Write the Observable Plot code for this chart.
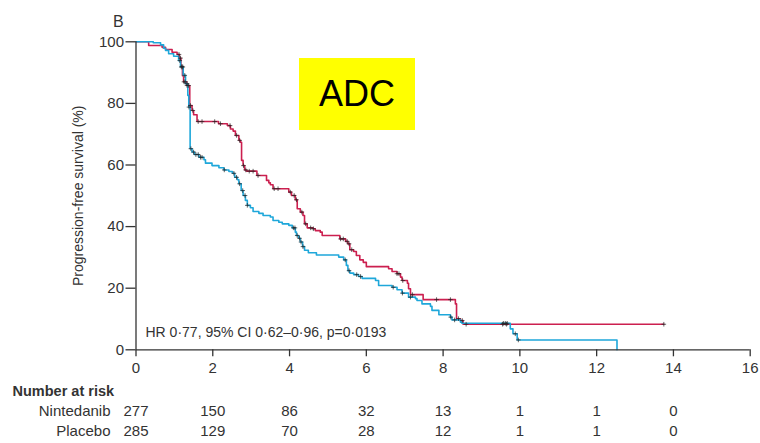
<!DOCTYPE html>
<html><head><meta charset="utf-8">
<script src="https://cdn.jsdelivr.net/npm/d3@7"></script>
<script src="https://cdn.jsdelivr.net/npm/@observablehq/plot@0.6"></script>
<style>
body{margin:0;background:#fff;}
#wrap{position:relative;width:760px;height:443px;}
#adc{position:absolute;left:299px;top:58px;width:116px;height:72px;background:#ffff00;font-family:"Liberation Sans",Arial,sans-serif;font-size:36px;display:flex;align-items:center;justify-content:center;color:#000;}
</style></head>
<body><div id="wrap"><div id="chart"></div><div id="adc">ADC</div></div>
<script>
const panelLabel = "B";
const yLabel = "Progression-free survival (%)";
const hrText = "HR 0·77, 95% CI 0·62–0·96, p=0·0193";
const riskTitle = "Number at risk";
const groups = ["Nintedanib", "Placebo"];
const xTicks = [0, 2, 4, 6, 8, 10, 12, 14, 16];
const yTicks = [0, 20, 40, 60, 80, 100];

const nintTime = [0,0.33,0.68,0.77,0.94,1.07,1.13,1.17,1.21,1.24,1.32,1.40,1.46,1.50,1.59,2.15,2.38,2.46,2.53,2.59,2.68,2.72,2.75,2.79,2.83,2.88,3.15,3.40,3.46,3.50,3.57,3.98,4.05,4.15,4.20,4.28,4.35,4.39,4.46,4.61,4.67,4.80,4.85,5.31,5.46,5.52,5.57,5.67,5.74,5.83,5.92,6.00,6.58,6.67,6.80,6.89,6.93,7.07,7.10,7.15,7.48,8.32,8.35,8.45,8.52,13.75];
const nintSurv = [100,98.8,98.2,97.5,96.6,95.9,94.7,92,89,87,85.8,79.3,77.7,76.3,74.1,73.4,72.8,71.7,71.0,69.6,68.0,67.4,61.5,59.8,58.4,58.0,56.6,55.0,54.2,53.6,52.3,51.2,50.1,48.7,45.8,44.7,43.6,40.9,39.6,39.3,38.7,38.2,37.1,36.0,35.2,34.4,32.5,31.9,30.6,29.2,28.4,27.0,26.3,25.4,24.7,23.6,22.5,21.6,19.8,17.9,16.3,14.9,10.1,9.5,8.3,8.3];

const placTime = [0,0.45,0.64,0.72,0.77,0.85,0.98,1.11,1.16,1.23,1.29,1.35,1.375,1.41,1.46,1.52,1.64,1.77,1.81,1.98,2.16,2.29,2.42,2.51,2.57,2.64,2.68,2.74,2.79,2.85,2.90,2.98,3.05,3.20,3.31,3.50,3.57,3.72,3.81,3.98,4.07,4.15,4.18,4.24,4.28,4.34,4.39,4.49,4.70,5.28,5.41,5.48,5.52,5.57,5.67,5.80,5.89,6.24,6.32,6.67,6.80,6.93,7.10,7.28,7.32,7.45,7.67,7.71,7.89,8.19,8.23,8.45,8.49,9.75,9.82,9.93,12.53];
const placSurv = [100,99.7,99.0,97.9,97.2,96.1,95.3,93.9,91.8,89.1,86.4,82.6,78.8,65.3,64.2,63.4,62.5,61.7,60.6,59.8,59.1,58.4,57.9,57.3,56.0,55.2,53.9,51.7,50.1,48.5,46.9,46.1,44.9,44.3,43.6,43.1,42.0,41.4,40.9,40.4,39.6,38.2,37.1,36.2,35.0,33.5,32.3,31.5,30.8,30.1,29.2,27.4,25.7,24.9,24.4,23.8,23.2,22.5,20.9,20.3,19.5,18.4,17.1,16.6,16.0,14.9,14.1,12.8,11.4,10.6,9.7,9.0,8.6,6.8,5.2,3.2,0];

const nintCensor = [1.12,1.16,1.20,1.25,1.28,1.33,1.37,1.42,1.48,1.62,1.72,2.05,2.2,2.45,2.62,2.70,2.80,2.86,2.95,3.05,3.18,3.6,3.7,4.02,4.12,4.18,4.32,4.42,4.55,4.62,5.33,5.4,5.5,5.55,5.62,6.8,6.85,6.95,7.2,7.83,8.19,8.4,8.5,8.6,9.55,9.65,13.75];
const placCensor = [1.14,1.18,1.22,1.27,1.33,1.38,1.43,1.5,1.56,1.62,1.68,1.72,2.3,2.55,2.62,2.7,2.78,2.84,2.9,4.1,4.14,4.2,4.26,4.3,4.35,5.45,5.55,5.75,5.85,6.7,6.94,7.15,8.2,8.3,9.57,9.62,9.67,9.88,9.96];

const riskTimes = [0, 2, 4, 6, 8, 10, 12, 14];
const nintRisk = [277, 150, 86, 32, 13, 1, 1, 0];
const placRisk = [285, 129, 70, 28, 12, 1, 1, 0];

const RED = "#cc1f4f", BLUE = "#1ea7da", INK = "#333";

const toRows = (T, S) => T.map((t, i) => ({t, s: S[i]}));
const stepAt = (T, S, t) => { let v = S[0]; for (let i = 0; i < T.length; i++) if (T[i] <= t) v = S[i]; return v; };
const nintRows = toRows(nintTime, nintSurv);
const placRows = toRows(placTime, placSurv);
const censorRows = [
  ...nintCensor.map(t => ({t, s: stepAt(nintTime, nintSurv, t)})),
  ...placCensor.map(t => ({t, s: stepAt(placTime, placSurv, t)}))
];
const nintRiskRows = riskTimes.map((t, i) => ({t, n: String(nintRisk[i])}));
const placRiskRows = riskTimes.map((t, i) => ({t, n: String(placRisk[i])}));

const chart = Plot.plot({
  width: 760, height: 443,
  marginLeft: 135.5, marginRight: 10.3, marginTop: 41.3, marginBottom: 93.7,
  x: {domain: [0, 16]},
  y: {domain: [0, 100]},
  style: {fontFamily: "'Liberation Sans', Arial, sans-serif", color: INK, background: "#fff", overflow: "visible"},
  marks: [
    Plot.line(nintRows, {x: "t", y: "s", curve: "step-after", stroke: RED, strokeWidth: 1.6}),
    Plot.line(placRows, {x: "t", y: "s", curve: "step-after", stroke: BLUE, strokeWidth: 1.6}),
    Plot.dot(censorRows, {x: "t", y: "s", symbol: "plus", r: 1.6, stroke: "#222", strokeWidth: 1, strokeOpacity: 0.7}),
    Plot.ruleX([0], {stroke: INK, strokeWidth: 1.3}),
    Plot.ruleY([0], {stroke: INK, strokeWidth: 1.3}),
    Plot.axisY({ticks: yTicks, tickSize: 10, tickPadding: 2, fontSize: 15, label: null, strokeWidth: 1.3}),
    Plot.axisX({ticks: xTicks, tickSize: 7, tickPadding: 6, fontSize: 15, label: null, strokeWidth: 1.3}),
    Plot.text([yLabel], {text: d => d, frameAnchor: "left", textAnchor: "middle", rotate: -90, dx: -57, fontSize: 14}),
    Plot.text([panelLabel], {text: d => d, frameAnchor: "top-left", textAnchor: "start", dx: -23, dy: -26, fontSize: 16}),
    Plot.text([hrText], {text: d => d, frameAnchor: "bottom-left", textAnchor: "start", dx: 9.5, dy: -13.3, fontSize: 14}),
    Plot.text([riskTitle], {text: d => d, frameAnchor: "bottom-left", textAnchor: "start", dx: -123.5, dy: 45.7, fontSize: 14.5, fontWeight: "bold"}),
    Plot.text([groups[0]], {text: d => d, frameAnchor: "bottom-left", textAnchor: "end", dx: -25.5, dy: 65.7, fontSize: 15}),
    Plot.text([groups[1]], {text: d => d, frameAnchor: "bottom-left", textAnchor: "end", dx: -25.5, dy: 85.7, fontSize: 15}),
    Plot.text(nintRiskRows, {x: "t", text: "n", frameAnchor: "bottom", dy: 65.7, fontSize: 15}),
    Plot.text(placRiskRows, {x: "t", text: "n", frameAnchor: "bottom", dy: 85.7, fontSize: 15})
  ]
});
document.getElementById("chart").appendChild(chart);
</script>
</body></html>
